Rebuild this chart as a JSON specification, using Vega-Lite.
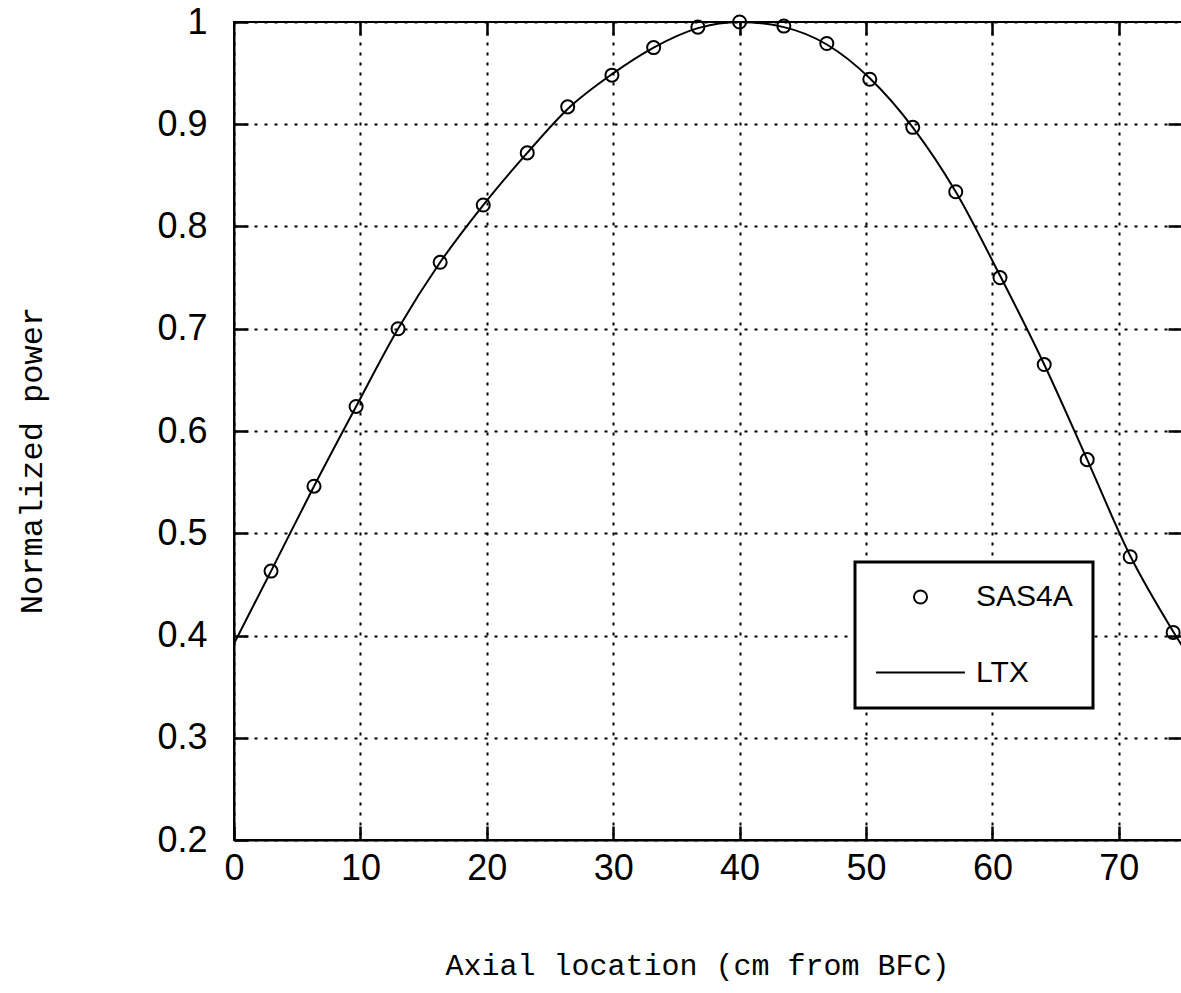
{
  "$schema": "https://vega.github.io/schema/vega-lite/v6.json",
  "width": 948,
  "height": 818,
  "autosize": {"type": "none"},
  "padding": {"left": 234, "top": 22, "right": 0, "bottom": 153},
  "background": "white",
  "config": {
    "view": {"stroke": "black", "strokeWidth": 2},
    "legend": {"strokeWidth": 3},
    "axis": {
      "domainColor": "black",
      "domainWidth": 2,
      "tickColor": "black",
      "tickWidth": 2.5,
      "gridColor": "black",
      "gridWidth": 2,
      "gridDash": [3, 7],
      "gridOpacity": 1,
      "labelColor": "black",
      "titleColor": "black",
      "labelFont": "Liberation Sans",
      "labelFontSize": 36,
      "titleFont": "Liberation Mono",
      "titleFontWeight": "normal"
    }
  },
  "data": {
    "values": [
      {"series": "LTX", "x": 0, "y": 0.392},
      {"series": "LTX", "x": 2.93, "y": 0.463},
      {"series": "LTX", "x": 6.33, "y": 0.546},
      {"series": "LTX", "x": 9.66, "y": 0.624},
      {"series": "LTX", "x": 12.98, "y": 0.7},
      {"series": "LTX", "x": 16.31, "y": 0.765},
      {"series": "LTX", "x": 19.72, "y": 0.821},
      {"series": "LTX", "x": 23.2, "y": 0.872},
      {"series": "LTX", "x": 26.4, "y": 0.915},
      {"series": "LTX", "x": 29.9, "y": 0.949},
      {"series": "LTX", "x": 33.2, "y": 0.975},
      {"series": "LTX", "x": 36.7, "y": 0.994},
      {"series": "LTX", "x": 40.0, "y": 1.0},
      {"series": "LTX", "x": 43.5, "y": 0.995},
      {"series": "LTX", "x": 46.9, "y": 0.978},
      {"series": "LTX", "x": 50.3, "y": 0.945},
      {"series": "LTX", "x": 53.7, "y": 0.897},
      {"series": "LTX", "x": 57.1, "y": 0.834},
      {"series": "LTX", "x": 60.6, "y": 0.752},
      {"series": "LTX", "x": 64.1, "y": 0.665},
      {"series": "LTX", "x": 67.5, "y": 0.572},
      {"series": "LTX", "x": 70.9, "y": 0.478},
      {"series": "LTX", "x": 74.3, "y": 0.404},
      {"series": "LTX", "x": 75, "y": 0.39},
      {"series": "SAS4A", "x": 2.93, "y": 0.463},
      {"series": "SAS4A", "x": 6.33, "y": 0.546},
      {"series": "SAS4A", "x": 9.66, "y": 0.624},
      {"series": "SAS4A", "x": 12.98, "y": 0.7},
      {"series": "SAS4A", "x": 16.31, "y": 0.765},
      {"series": "SAS4A", "x": 19.72, "y": 0.821},
      {"series": "SAS4A", "x": 23.2, "y": 0.872},
      {"series": "SAS4A", "x": 26.4, "y": 0.917},
      {"series": "SAS4A", "x": 29.9, "y": 0.948},
      {"series": "SAS4A", "x": 33.2, "y": 0.975},
      {"series": "SAS4A", "x": 36.7, "y": 0.995},
      {"series": "SAS4A", "x": 40.0, "y": 1.0},
      {"series": "SAS4A", "x": 43.5, "y": 0.996},
      {"series": "SAS4A", "x": 46.9, "y": 0.979},
      {"series": "SAS4A", "x": 50.3, "y": 0.944},
      {"series": "SAS4A", "x": 53.7, "y": 0.897},
      {"series": "SAS4A", "x": 57.1, "y": 0.834},
      {"series": "SAS4A", "x": 60.6, "y": 0.75},
      {"series": "SAS4A", "x": 64.1, "y": 0.665},
      {"series": "SAS4A", "x": 67.5, "y": 0.572},
      {"series": "SAS4A", "x": 70.9, "y": 0.477},
      {"series": "SAS4A", "x": 74.3, "y": 0.403}
    ]
  },
  "layer": [
    {
      "transform": [{"filter": "datum.series === 'SAS4A'"}],
      "mark": {"type": "point", "filled": false, "color": "black", "strokeWidth": 2, "opacity": 1},
      "encoding": {
        "x": {
          "field": "x", "type": "quantitative",
          "scale": {"domain": [0, 75], "nice": false, "zero": false},
          "axis": {
            "orient": "bottom", "values": [0, 10, 20, 30, 40, 50, 60, 70], "format": "d",
            "grid": true, "tickSize": -14, "labelPadding": 25, "labelDx": 3, "labelFlush": false, "labelOverlap": false,
            "title": "Axial location (cm from BFC)", "titleFontSize": 30,
            "titleX": 463, "titleY": 125, "titleBaseline": "middle", "titleAlign": "center", "titleAnchor": "middle"
          }
        },
        "y": {
          "field": "y", "type": "quantitative",
          "scale": {"domain": [0.2, 1], "nice": false, "zero": false},
          "axis": {
            "orient": "left", "values": [0.2, 0.3, 0.4, 0.5, 0.6, 0.7, 0.8, 0.9, 1], "format": "~g",
            "grid": true, "tickSize": -14, "labelPadding": 41, "labelFlush": false, "labelOverlap": false,
            "title": "Normalized power", "titleFontSize": 32,
            "titleX": -203, "titleY": 438, "titleAngle": -90, "titleBaseline": "middle", "titleAlign": "center", "titleAnchor": "middle"
          }
        },
        "shape": {
          "field": "series", "type": "nominal",
          "scale": {"domain": ["SAS4A", "LTX"], "range": ["circle", "stroke"]},
          "legend": {
            "orient": "none", "legendX": 621, "legendY": 540, "title": null,
            "strokeColor": "black", "fillColor": "white", "padding": 20,
            "labelFont": "Liberation Sans", "labelFontSize": 30, "labelColor": "black",
            "labelOffset": 10, "rowPadding": 15, "symbolStrokeWidth": 2, "symbolStrokeColor": "black",
            "encode": {"legend": {"update": {"strokeWidth": {"value": 3}}}}
          }
        },
        "size": {
          "field": "series", "type": "nominal",
          "scale": {"domain": ["SAS4A", "LTX"], "range": [170, 7900]},
          "legend": {
            "orient": "none", "legendX": 621, "legendY": 540, "title": null,
            "strokeColor": "black", "fillColor": "white", "padding": 20,
            "labelFont": "Liberation Sans", "labelFontSize": 30, "labelColor": "black",
            "labelOffset": 10, "rowPadding": 15, "symbolStrokeWidth": 2, "symbolStrokeColor": "black",
            "encode": {"legend": {"update": {"strokeWidth": {"value": 3}}}}
          }
        }
      }
    },
    {
      "transform": [{"filter": "datum.series === 'LTX'"}],
      "mark": {"type": "line", "interpolate": "monotone", "color": "black", "strokeWidth": 2, "clip": true},
      "encoding": {
        "x": {
          "field": "x", "type": "quantitative",
          "scale": {"domain": [0, 75], "nice": false, "zero": false},
          "axis": {"orient": "top", "labels": false, "title": null, "grid": false, "domain": false, "tickSize": -13, "values": [10, 20, 30, 40, 50, 60, 70]}
        },
        "y": {
          "field": "y", "type": "quantitative",
          "scale": {"domain": [0.2, 1], "nice": false, "zero": false},
          "axis": {"orient": "right", "labels": false, "title": null, "grid": false, "domain": false, "tickSize": -14, "values": [0.3, 0.4, 0.5, 0.6, 0.7, 0.8, 0.9]}
        }
      }
    }
  ],
  "resolve": {"axis": {"x": "independent", "y": "independent"}}
}
